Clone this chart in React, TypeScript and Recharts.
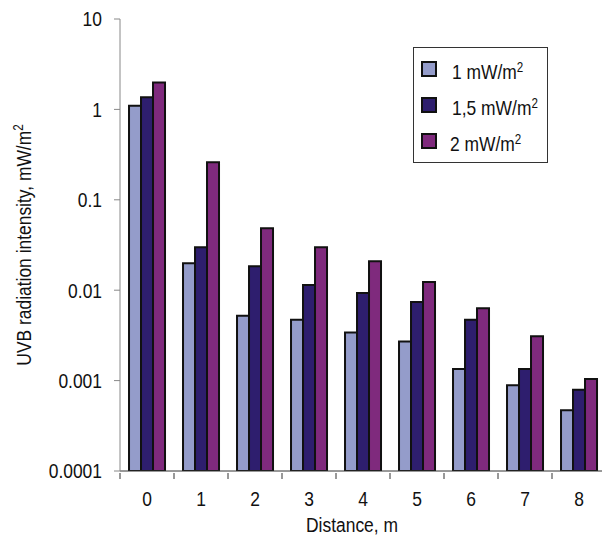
import { BarChart, Bar, XAxis, YAxis, Legend } from "recharts";

const distances = ["0", "1", "2", "3", "4", "5", "6", "7", "8"];
const uvb1 = [1.1, 0.0199, 0.0052, 0.0047, 0.0034, 0.0027, 0.00134, 0.00089, 0.00047];
const uvb15 = [1.36, 0.0299, 0.0184, 0.0114, 0.0093, 0.0074, 0.0047, 0.00134, 0.00079];
const uvb2 = [1.99, 0.26, 0.0484, 0.0299, 0.0209, 0.0123, 0.0063, 0.0031, 0.00104];
const yTicks = [0.0001, 0.001, 0.01, 0.1, 1, 10];

const seriesNames = ["1 mW/m", "1,5 mW/m", "2 mW/m"];
const seriesColors = ["#949cca", "#2e1e6e", "#7f2a7d"];

const data = distances.map((d, i) => ({
  distance: d,
  s1: uvb1[i],
  s15: uvb15[i],
  s2: uvb2[i],
}));

// the original uses a narrow Arial; squeeze Liberation Sans to match
const FONT = "'Liberation Sans', Arial, sans-serif";
const SQ = 0.83;

/** category tick: label at centre, tick mark at left boundary */
function DistanceTick(props: any) {
  const { x, y, payload, index } = props;
  const half = payload?.offset ?? 27;
  const last = index === distances.length - 1;
  return (
    <g>
      <line x1={x - half} y1={y} x2={x - half} y2={y + 6} stroke="#333" />
      {last && <line x1={x + half} y1={y} x2={x + half} y2={y + 6} stroke="#333" />}
      <text
        transform={`translate(${x}, ${y + 33}) scale(${SQ}, 1)`}
        textAnchor="middle"
        fontSize={21}
        fontFamily={FONT}
        fill="#111"
      >
        {payload.value}
      </text>
    </g>
  );
}

function ValueTick(props: any) {
  const { x, y, payload } = props;
  return (
    <text
      transform={`translate(${x}, ${y}) scale(${SQ}, 1)`}
      textAnchor="end"
      dy="0.355em"
      fontSize={21}
      fontFamily={FONT}
      fill="#111"
    >
      {String(payload.value)}
    </text>
  );
}

function LegendBox() {
  return (
    <div
      style={{
        border: "1px solid #333",
        background: "#fff",
        width: 135,
        height: 116,
        boxSizing: "border-box",
        padding: "3px 0 0 7px",
        fontFamily: FONT,
        fontSize: 21,
        lineHeight: "21px",
        color: "#111",
        textAlign: "left",
      }}
    >
      {seriesNames.map((n, i) => (
        <div key={n} style={{ display: "flex", alignItems: "center", height: 36 }}>
          <span
            style={{
              display: "inline-block",
              width: 12,
              height: 12,
              background: seriesColors[i],
              border: "2px solid #111",
              marginRight: i === 2 ? 13 : 15,
              flex: "none",
            }}
          />
          <span
            style={{
              whiteSpace: "nowrap",
              display: "inline-block",
              transform: `scaleX(${SQ})`,
              transformOrigin: "left center",
            }}
          >
            {n}
            <sup style={{ fontSize: 14, verticalAlign: "7px" }}>2</sup>
          </span>
        </div>
      ))}
    </div>
  );
}

export default function App() {
  return (
    <div
      style={{
        position: "absolute",
        left: 0,
        top: 0,
        width: 602,
        height: 538,
        overflow: "hidden",
        background: "#fff",
      }}
    >
      <BarChart
        width={608}
        height={538}
        data={data}
        margin={{ top: 19, right: 2, left: 0, bottom: 0 }}
        barCategoryGap="16.7%"
        barGap={0}
      >
        <XAxis
          dataKey="distance"
          height={67}
          stroke="#333"
          tickLine={false}
          tickSize={0}
          tick={<DistanceTick />}
          interval={0}
        />
        <YAxis
          scale="log"
          type="number"
          domain={[0.0001, 10]}
          allowDataOverflow
          ticks={yTicks}
          width={120}
          stroke="#888"
          tickSize={6}
          tickMargin={12}
          tick={<ValueTick />}
          interval={0}
        />
        <Legend
          layout="horizontal"
          verticalAlign="middle"
          align="center"
          content={<LegendBox />}
          wrapperStyle={{ position: "absolute", left: 413, top: 47, width: 135 }}
        />
        <Bar dataKey="s1" name={seriesNames[0]} fill={seriesColors[0]} stroke="#111" strokeWidth={2} isAnimationActive={false} />
        <Bar dataKey="s15" name={seriesNames[1]} fill={seriesColors[1]} stroke="#111" strokeWidth={2} isAnimationActive={false} />
        <Bar dataKey="s2" name={seriesNames[2]} fill={seriesColors[2]} stroke="#111" strokeWidth={2} isAnimationActive={false} />
        <text
          transform={`translate(352, 532) scale(${SQ}, 1)`}
          textAnchor="middle"
          fontSize={21}
          fontFamily={FONT}
          fill="#111"
        >
          Distance, m
        </text>
        <text
          transform={`translate(31, 245) rotate(-90) scale(${SQ}, 1)`}
          textAnchor="middle"
          fontSize={21}
          fontFamily={FONT}
          fill="#111"
        >
          UVB radiation intensity, mW/m
          <tspan fontSize={14} dy={-8}>2</tspan>
        </text>
      </BarChart>
    </div>
  );
}
